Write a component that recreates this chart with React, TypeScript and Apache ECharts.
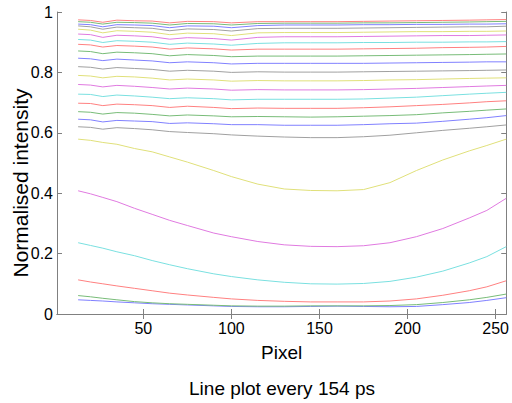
import React, { useEffect, useRef } from "react";
import * as echarts from "echarts";

const pixels = [13, 20, 27, 35, 45, 55, 65, 75, 90, 100, 115, 130, 145, 160, 175, 190, 205, 220, 235, 245, 256];

const line01 = [0.047, 0.045, 0.043, 0.040, 0.037, 0.034, 0.032, 0.030, 0.027, 0.025, 0.024, 0.024, 0.025, 0.026, 0.025, 0.024, 0.025, 0.031, 0.038, 0.045, 0.054];
const line02 = [0.061, 0.057, 0.052, 0.047, 0.041, 0.037, 0.034, 0.032, 0.029, 0.027, 0.026, 0.026, 0.027, 0.027, 0.027, 0.028, 0.031, 0.038, 0.047, 0.055, 0.066];
const line03 = [0.113, 0.106, 0.100, 0.093, 0.085, 0.077, 0.069, 0.063, 0.055, 0.050, 0.045, 0.042, 0.040, 0.040, 0.040, 0.043, 0.050, 0.062, 0.077, 0.090, 0.110];
const line04 = [0.236, 0.227, 0.218, 0.206, 0.193, 0.177, 0.163, 0.150, 0.133, 0.124, 0.113, 0.105, 0.100, 0.099, 0.101, 0.108, 0.122, 0.142, 0.169, 0.190, 0.223];
const line05 = [0.408, 0.398, 0.386, 0.372, 0.350, 0.330, 0.310, 0.293, 0.268, 0.256, 0.240, 0.229, 0.224, 0.223, 0.226, 0.236, 0.256, 0.283, 0.318, 0.343, 0.383];
const line06 = [0.579, 0.575, 0.568, 0.562, 0.548, 0.537, 0.520, 0.503, 0.475, 0.455, 0.430, 0.414, 0.409, 0.408, 0.412, 0.435, 0.475, 0.510, 0.540, 0.558, 0.579];
const line07 = [0.620, 0.618, 0.612, 0.617, 0.614, 0.610, 0.604, 0.601, 0.597, 0.593, 0.589, 0.586, 0.584, 0.584, 0.587, 0.592, 0.600, 0.608, 0.615, 0.620, 0.626];
const line08 = [0.645, 0.643, 0.636, 0.641, 0.639, 0.637, 0.631, 0.633, 0.630, 0.627, 0.627, 0.625, 0.625, 0.625, 0.627, 0.630, 0.632, 0.638, 0.645, 0.650, 0.657];
const line09 = [0.670, 0.668, 0.662, 0.667, 0.665, 0.661, 0.656, 0.659, 0.656, 0.653, 0.654, 0.653, 0.652, 0.653, 0.655, 0.657, 0.660, 0.666, 0.671, 0.675, 0.679];
const line10 = [0.698, 0.697, 0.690, 0.695, 0.693, 0.690, 0.684, 0.688, 0.684, 0.680, 0.682, 0.681, 0.681, 0.681, 0.683, 0.686, 0.690, 0.694, 0.699, 0.703, 0.706];
const line11 = [0.728, 0.727, 0.720, 0.725, 0.722, 0.718, 0.713, 0.716, 0.713, 0.709, 0.711, 0.711, 0.711, 0.711, 0.712, 0.715, 0.718, 0.723, 0.728, 0.731, 0.734];
const line12 = [0.760, 0.758, 0.752, 0.757, 0.754, 0.750, 0.745, 0.748, 0.745, 0.741, 0.743, 0.742, 0.742, 0.742, 0.743, 0.745, 0.747, 0.750, 0.753, 0.755, 0.757];
const line13 = [0.790, 0.788, 0.782, 0.787, 0.785, 0.781, 0.775, 0.778, 0.775, 0.771, 0.773, 0.772, 0.772, 0.772, 0.773, 0.775, 0.776, 0.778, 0.780, 0.781, 0.782];
const line14 = [0.819, 0.817, 0.811, 0.816, 0.813, 0.810, 0.804, 0.807, 0.804, 0.800, 0.802, 0.801, 0.801, 0.801, 0.802, 0.803, 0.804, 0.805, 0.806, 0.807, 0.808];
const line15 = [0.847, 0.845, 0.839, 0.844, 0.841, 0.838, 0.832, 0.835, 0.832, 0.828, 0.830, 0.830, 0.830, 0.830, 0.830, 0.831, 0.832, 0.833, 0.834, 0.835, 0.835];
const line16 = [0.871, 0.869, 0.862, 0.867, 0.865, 0.862, 0.855, 0.859, 0.856, 0.852, 0.854, 0.854, 0.854, 0.854, 0.855, 0.856, 0.857, 0.858, 0.859, 0.860, 0.861];
const line17 = [0.893, 0.891, 0.884, 0.889, 0.887, 0.884, 0.877, 0.881, 0.878, 0.874, 0.877, 0.877, 0.877, 0.877, 0.878, 0.879, 0.880, 0.882, 0.883, 0.884, 0.886];
const line18 = [0.909, 0.907, 0.899, 0.905, 0.903, 0.900, 0.893, 0.897, 0.894, 0.890, 0.896, 0.898, 0.898, 0.898, 0.899, 0.899, 0.900, 0.900, 0.901, 0.901, 0.902];
const line19 = [0.927, 0.925, 0.916, 0.923, 0.921, 0.918, 0.910, 0.915, 0.912, 0.907, 0.916, 0.918, 0.918, 0.918, 0.919, 0.920, 0.921, 0.922, 0.922, 0.923, 0.924];
const line20 = [0.943, 0.940, 0.931, 0.938, 0.936, 0.933, 0.925, 0.930, 0.928, 0.922, 0.931, 0.932, 0.932, 0.932, 0.933, 0.934, 0.935, 0.935, 0.936, 0.936, 0.937];
const line21 = [0.954, 0.951, 0.943, 0.950, 0.948, 0.946, 0.938, 0.944, 0.942, 0.937, 0.945, 0.946, 0.946, 0.946, 0.947, 0.948, 0.949, 0.950, 0.951, 0.951, 0.953];
const line22 = [0.960, 0.958, 0.951, 0.958, 0.957, 0.955, 0.948, 0.954, 0.953, 0.948, 0.955, 0.957, 0.957, 0.957, 0.958, 0.958, 0.959, 0.959, 0.960, 0.960, 0.961];
const line23 = [0.968, 0.966, 0.960, 0.966, 0.965, 0.963, 0.957, 0.962, 0.961, 0.957, 0.962, 0.963, 0.963, 0.963, 0.964, 0.964, 0.965, 0.966, 0.967, 0.968, 0.969];
const line24 = [0.974, 0.972, 0.966, 0.973, 0.971, 0.970, 0.964, 0.969, 0.968, 0.964, 0.968, 0.968, 0.968, 0.968, 0.969, 0.970, 0.971, 0.972, 0.973, 0.974, 0.975];

const lines = [
  line01, line02, line03, line04, line05, line06, line07, line08,
  line09, line10, line11, line12, line13, line14, line15, line16,
  line17, line18, line19, line20, line21, line22, line23, line24,
];

const xTicks = [50, 100, 150, 200, 250];
const colorCycle = ["#8080ff", "#78bc78", "#ff8080", "#7ae0e0", "#e07ae0", "#e0e07a", "#a0a0a0"];

const FONT = "Liberation Sans, Arial, sans-serif";

export default function App() {
  const ref = useRef<HTMLDivElement>(null);
  useEffect(() => {
    if (!ref.current) return;
    const chart = echarts.init(ref.current, null, { renderer: "svg" });
    const axisLine = { show: true, lineStyle: { color: "#808080", width: 1 } };
    const option: any = {
      animation: false,
      backgroundColor: "#ffffff",
      grid: { left: 57, top: 12, width: 451, height: 302, containLabel: false },
      xAxis: [
        {
          type: "value",
          min: 1,
          max: 256,
          position: "bottom",
          axisLine,
          axisTick: { show: true, inside: true, length: 5, customValues: xTicks, lineStyle: { color: "#808080" } },
          axisLabel: { show: true, customValues: xTicks, color: "#000", fontSize: 16, fontFamily: FONT, margin: 6 },
          splitLine: { show: false },
          name: "Pixel",
          nameLocation: "middle",
          nameGap: 29,
          nameTextStyle: { color: "#000", fontSize: 19, fontFamily: FONT },
        },
        {
          type: "value",
          min: 1,
          max: 256,
          position: "top",
          axisLine,
          axisTick: { show: true, inside: true, length: 5, customValues: xTicks, lineStyle: { color: "#808080" } },
          axisLabel: { show: false },
          splitLine: { show: false },
        },
      ],
      yAxis: [
        {
          type: "value",
          min: 0,
          max: 1,
          interval: 0.2,
          position: "left",
          axisLine,
          axisTick: { show: true, inside: true, length: 5, lineStyle: { color: "#808080" } },
          axisLabel: { show: true, color: "#000", fontSize: 16, fontFamily: FONT, margin: 4 },
          splitLine: { show: false },
        },
        {
          type: "value",
          min: 0,
          max: 1,
          interval: 0.2,
          position: "right",
          axisLine,
          axisTick: { show: true, inside: true, length: 5, lineStyle: { color: "#808080" } },
          axisLabel: { show: false },
          splitLine: { show: false },
        },
      ],
      graphic: [
        {
          type: "text",
          x: 20,
          y: 183,
          rotation: Math.PI / 2,
          style: {
            text: "Normalised intensity",
            fill: "#000",
            fontSize: 21,
            fontFamily: FONT,
            align: "center",
            verticalAlign: "middle",
          },
        },
        {
          type: "text",
          x: 282,
          y: 388,
          style: {
            text: "Line plot every 154 ps",
            fill: "#000",
            fontSize: 19,
            fontFamily: FONT,
            align: "center",
            verticalAlign: "middle",
          },
        },
      ],
      series: lines.map((vals, i) => ({
        type: "line",
        xAxisIndex: 0,
        yAxisIndex: 0,
        showSymbol: false,
        symbol: "none",
        silent: true,
        lineStyle: { width: 1, color: colorCycle[i % colorCycle.length] },
        data: pixels.map((p, j) => [p, vals[j]]),
      })),
    };
    chart.setOption(option);
    return () => chart.dispose();
  }, []);
  return (
    <div
      ref={ref}
      style={{ position: "fixed", left: 0, top: 0, width: 512, height: 403 }}
    />
  );
}
